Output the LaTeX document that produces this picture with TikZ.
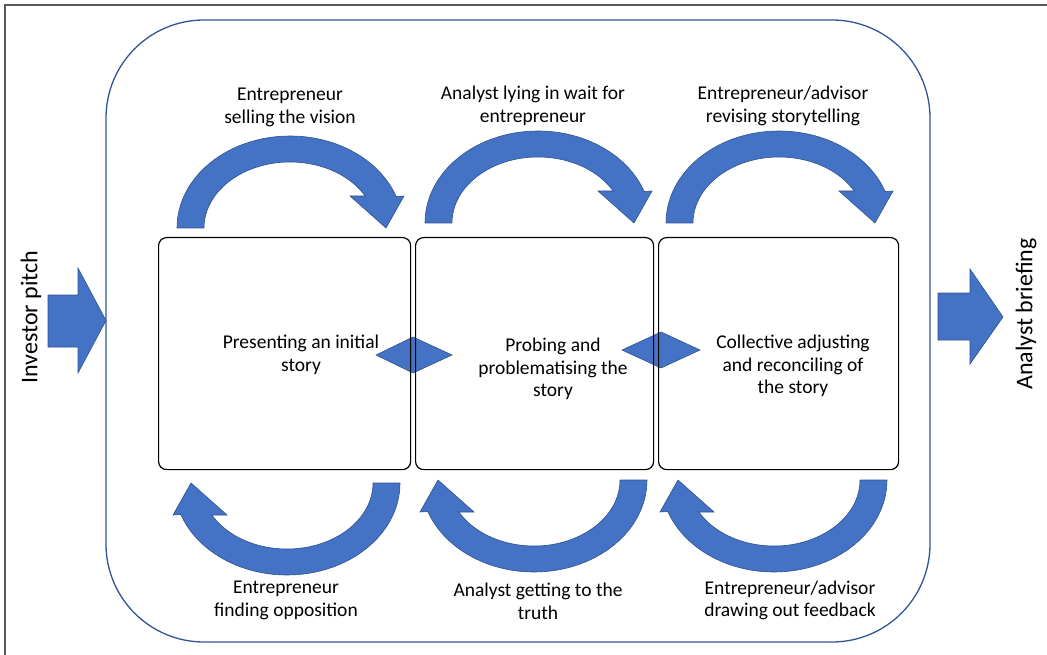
\documentclass[tikz,border=0pt]{standalone}
\usepackage{fontspec}
\setmainfont{Carlito}
\definecolor{shapeblue}{HTML}{4472C4}
\definecolor{shapeedge}{HTML}{2F528F}
\definecolor{frameblue}{HTML}{2F5597}
\definecolor{framegray}{HTML}{595959}
% curved block arrow, drawn around its centre with local y pointing up
\newcommand\curvedblock{%
  \path[blk] (-113,0)
    arc[start angle=180,end angle=20,x radius=113,y radius=92]
    -- (114,32) -- (96,0) -- (60,32) -- (75.2,32)
    arc[start angle=29,end angle=180,x radius=86,y radius=66] -- cycle;}
\begin{document}
\begin{tikzpicture}[x=1pt,y=-1pt,
  blk/.style={fill=shapeblue,draw=shapeedge,line width=0.6pt,line join=miter},
  stagebox/.style={draw=black,line width=1.2pt,rounded corners=8pt},
  lbl/.style={font=\fontsize{19.5}{22.5}\selectfont,align=center,inner sep=0pt},
  sidelbl/.style={font=\fontsize{24}{28}\selectfont,rotate=90,inner sep=0pt}]
\useasboundingbox (0,0) rectangle (1047,655);
% outer frame (top and left edges)
\draw[framegray,line width=2pt] (5,655) -- (5,5) -- (1047,5);
% rounded container
\draw[frameblue,line width=1.3pt,rounded corners=98pt] (106,20) rectangle (930,642);
% in/out block arrows
\path[blk] (48,295) -- (78,295) -- (78,268) -- (106,320.5) -- (78,373) -- (78,347) -- (48,347) -- cycle;
\path[blk] (938,293) -- (970,293) -- (970,269) -- (1003,317) -- (970,364) -- (970,340) -- (938,340) -- cycle;
% two-way links between stages
\path[blk] (376,355) -- (413,337) -- (452,355) -- (413,373) -- cycle;
\path[blk] (622,350) -- (661,332) -- (700,350) -- (661,368) -- cycle;
% stages
\node[stagebox,minimum width=252pt,minimum height=232pt,anchor=north west] (s1) at (158,237) {};
\node[stagebox,minimum width=238pt,minimum height=232pt,anchor=north west] (s2) at (415,237) {};
\node[stagebox,minimum width=240pt,minimum height=232pt,anchor=north west] (s3) at (658,237) {};
\node[lbl] (t1) at (301,355) {Presenting an initial\\story};
\node[lbl] (t2) at (553,369) {Probing and\\problematising the\\story};
\node[lbl] (t3) at (793,366) {Collective adjusting\\and reconciling of\\the story};
% curved arrows above the stages
\begin{scope}[shift={(290,228)},yscale=-1]\curvedblock\end{scope}
\begin{scope}[shift={(538,223)},yscale=-1]\curvedblock\end{scope}
\begin{scope}[shift={(779,223)},yscale=-1]\curvedblock\end{scope}
% curved arrows below the stages
\begin{scope}[shift={(287,483)},xscale=-1]\curvedblock\end{scope}
\begin{scope}[shift={(534,480)},xscale=-1]\curvedblock\end{scope}
\begin{scope}[shift={(774,480)},xscale=-1]\curvedblock\end{scope}
% arrow captions
\node[lbl] (a1) at (290,107.5) {Entrepreneur\\selling the vision};
\node[lbl] (a2) at (533,106) {Analyst lying in wait for\\entrepreneur};
\node[lbl] (a3) at (783,106) {Entrepreneur/advisor\\revising storytelling};
\node[lbl] (b1) at (286,600.5) {Entrepreneur\\finding opposition};
\node[lbl] (b2) at (538,601.5) {Analyst getting to the\\truth};
\node[lbl] (b3) at (790,600.5) {Entrepreneur/advisor\\drawing out feedback};
% side captions
\node[sidelbl] (inp) at (31,317) {Investor pitch};
\node[sidelbl] (outp) at (1026,314) {Analyst briefing};
\end{tikzpicture}
\end{document}
